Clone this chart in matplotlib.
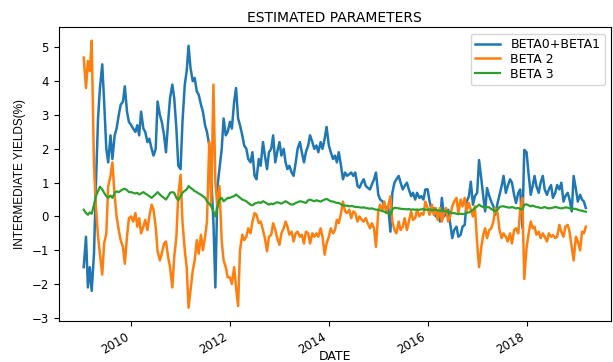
import matplotlib
matplotlib.use("Agg")
import matplotlib.pyplot as plt
import matplotlib.dates as mdates
import pandas as pd

# semi-monthly observations (1st and 15th), mid-Jan 2009 .. mid-Mar 2019
dates = pd.date_range("2009-01-15", "2019-03-15", freq="SMS")

beta01 = [
    # 2009 (from Jan 15)
    -1.5, -0.6, -2.1, -1.5, -2.2, -1.1, 0.9, 2.9, 3.8, 4.5, 3.4, 2.0,
    1.6, 2.4, 1.7, 2.4, 2.6, 3.0, 3.3, 3.4, 3.85, 3.1, 2.8,
    # 2010
    2.7, 2.6, 2.5, 2.7, 2.4, 3.1, 2.6, 2.5, 2.2, 2.3, 2.0, 1.8,
    2.0, 3.4, 3.0, 2.8, 2.4, 1.9, 2.8, 3.5, 3.9, 3.5, 2.6, 1.5,
    # 2011
    1.4, 2.8, 3.9, 4.3, 5.05, 4.4, 4.0, 4.1, 3.7, 3.6, 3.3, 3.1,
    2.7, 2.5, 2.1, 1.2, -0.2, -2.1, 0.9, 1.4, 2.0, 2.9, 2.4, 2.5,
    # 2012
    2.8, 2.6, 3.4, 3.8, 2.9, 2.7, 2.4, 2.1, 2.0, 1.7, 1.6, 1.9,
    1.2, 1.1, 1.7, 1.5, 2.2, 1.8, 1.4, 1.9, 2.0, 2.4, 1.6, 1.9,
    # 2013
    2.2, 1.8, 2.0, 1.6, 1.4, 1.5, 1.3, 1.2, 1.6, 2.0, 2.2, 1.9,
    1.6, 1.9, 2.1, 2.4, 2.2, 2.0, 2.1, 1.9, 2.2, 2.0, 2.3, 2.65,
    # 2014
    2.1, 1.9, 1.7, 1.8, 1.6, 1.9, 1.5, 1.1, 1.3, 1.2, 1.25, 1.3,
    1.2, 1.3, 0.9, 0.85, 1.0, 1.1, 0.9, 0.85, 0.8, 0.95, 1.1, 1.3,
    # 2015
    0.65, 0.5, 0.45, 0.3, 0.25, 0.3, -0.45, 0.7, 1.0, 1.1, 1.2, 1.0,
    0.8, 0.9, 1.0, 0.8, 0.6, 0.7, 0.5, 0.7, 0.55, 0.6, 0.5, 0.8,
    # 2016
    0.8, 0.45, 0.15, 0.25, 0.0, 0.15, -0.15, 0.55, 0.0, 0.1, 0.2, -0.2,
    -0.64, -0.4, -0.3, -0.6, -0.54, -0.3, -0.25, 0.44, 0.6, 1.03, 0.35, 0.6,
    # 2017
    0.7, 1.67, 1.1, 0.6, 0.15, 0.84, 0.6, 0.44, 0.3, 0.05, 0.4, 0.64,
    0.9, 1.2, 0.7, 0.9, 1.1, 1.0, 0.64, 0.4, 0.7, 0.8, -0.34, 1.97,
    # 2018
    1.9, 1.3, 0.64, 0.9, 1.2, 0.9, 0.7, 1.0, 1.2, 0.8, 0.64, 0.8,
    0.93, 0.55, 0.7, 0.93, 0.8, 1.0, 0.44, 0.6, 0.7, 0.5, 0.15, 1.2,
    # 2019
    0.8, 0.44, 0.64, 0.5, 0.44, 0.25,
]

beta2 = [
    # 2009 (from Jan 15)
    4.7, 3.8, 4.6, 4.3, 5.2, 1.5, 0.3, -0.6, -1.1, -1.72, -0.8, -0.5,
    0.9, 1.2, 1.6, 0.6, 0.0, -0.4, -0.7, -0.9, -1.4, -0.6, -0.05,
    # 2010
    0.0, -0.15, 0.1, -0.3, -0.05, -0.5, -0.3, -0.1, -0.4, 0.0, 0.35, 0.2,
    -0.3, -1.03, -1.3, -1.1, -0.8, -0.74, -1.2, -1.5, -2.1, -1.2, -0.6, 0.64,
    # 2011
    1.23, -0.15, -1.0, -1.5, -2.7, -2.2, -1.6, -1.3, -0.7, -1.1, -0.54, -1.0,
    -0.6, -0.15, 2.2, 0.4, 3.9, 1.0, 0.25, 0.9, -0.74, -1.3, -1.5, -1.8,
    # 2012
    -1.8, -2.0, -1.5, -2.1, -2.65, -1.0, -0.54, -0.7, -0.6, -0.35, -0.5, -0.15,
    0.1, 0.05, -0.2, -0.15, -0.4, -0.64, -1.03, -0.6, -0.54, -0.2, -0.4, -0.64,
    # 2013
    -0.84, -0.5, -0.35, -0.15, -0.3, -0.54, -0.45, -0.74, -0.5, -0.45, -0.6, -0.54,
    -0.8, -0.45, -0.5, -0.8, -0.5, -0.6, -0.5, -0.6, -0.35, -0.6, -1.13, -0.8,
    # 2014
    -0.6, -0.35, -0.5, -0.4, -0.1, -0.2, 0.1, 0.44, 0.15, 0.1, 0.2, -0.05,
    0.15, 0.1, -0.15, 0.0, -0.1, -0.15, -0.05, -0.2, -0.35, -0.2, -0.35, -0.9,
    # 2015
    0.15, 0.35, 0.2, 0.44, 0.1, 0.3, 0.6, -0.15, -0.4, -0.5, -0.15, -0.4,
    -0.3, -0.05, -0.4, -0.15, 0.15, -0.1, -0.05, 0.2, 0.0, 0.1, 0.05, 0.44,
    # 2016
    0.25, 0.05, 0.35, 0.05, 0.25, -0.1, 0.25, -0.15, 0.1, 0.25, -0.15, 0.0,
    0.3, 0.44, 0.55, 0.1, 0.5, 0.3, 0.55, 0.15, 0.4, 0.2, 0.0, 0.3,
    # 2017
    -0.8, -1.5, -0.9, -0.54, -0.35, -0.64, -0.4, -0.35, -0.15, 0.25, 0.1, -0.4,
    -0.64, -0.5, -0.6, -0.74, -0.5, -0.8, -0.4, -0.35, -0.5, 0.2, 0.55, -1.85,
    # 2018
    -0.93, -0.54, -0.15, -0.35, -0.3, -0.54, -0.45, -0.64, -0.5, -0.6, -0.74, -0.5,
    -0.6, -0.55, -0.64, -0.6, -0.25, -0.45, -0.6, -0.3, -0.25, -0.45, -0.9, -1.3,
    # 2019
    -0.6, -0.74, -1.0, -0.45, -0.5, -0.3,
]

beta3 = [
    # 2009 (from Jan 15)
    0.2, 0.1, 0.05, 0.12, 0.08, 0.35, 0.6, 0.75, 0.88, 0.8, 0.7, 0.6,
    0.55, 0.62, 0.55, 0.7, 0.74, 0.72, 0.76, 0.8, 0.82, 0.78, 0.72,
    # 2010
    0.72, 0.7, 0.68, 0.7, 0.65, 0.68, 0.72, 0.68, 0.64, 0.6, 0.55, 0.6,
    0.66, 0.72, 0.65, 0.6, 0.55, 0.5, 0.6, 0.7, 0.72, 0.7, 0.55, 0.48,
    # 2011
    0.6, 0.7, 0.76, 0.8, 0.9, 0.85, 0.8, 0.75, 0.72, 0.68, 0.64, 0.6,
    0.55, 0.45, 0.38, 0.3, 0.15, 0.0, 0.3, 0.5, 0.55, 0.45, 0.5, 0.55,
    # 2012
    0.55, 0.58, 0.6, 0.65, 0.6, 0.55, 0.5, 0.48, 0.45, 0.4, 0.35, 0.33,
    0.38, 0.4, 0.42, 0.4, 0.45, 0.42, 0.38, 0.35, 0.38, 0.36, 0.4, 0.42,
    # 2013
    0.4, 0.38, 0.42, 0.45, 0.42, 0.38, 0.35, 0.36, 0.4, 0.42, 0.45, 0.44,
    0.42, 0.4, 0.48, 0.5, 0.47, 0.45, 0.48, 0.46, 0.44, 0.47, 0.5, 0.52,
    # 2014
    0.48, 0.45, 0.44, 0.42, 0.4, 0.4, 0.36, 0.33, 0.32, 0.32, 0.3, 0.31,
    0.3, 0.28, 0.28, 0.27, 0.26, 0.27, 0.25, 0.24, 0.23, 0.24, 0.22, 0.2,
    # 2015
    0.2, 0.18, 0.16, 0.14, 0.12, 0.1, 0.05, 0.2, 0.26, 0.25, 0.24, 0.23,
    0.22, 0.22, 0.21, 0.22, 0.2, 0.21, 0.2, 0.2, 0.2, 0.21, 0.22, 0.2,
    # 2016
    0.2, 0.21, 0.2, 0.19, 0.2, 0.18, 0.17, 0.18, 0.16, 0.15, 0.14, 0.12,
    0.1, 0.1, 0.08, 0.07, 0.08, 0.07, 0.08, 0.1, 0.12, 0.15, 0.2, 0.25,
    # 2017
    0.3, 0.35, 0.3, 0.28, 0.25, 0.28, 0.27, 0.22, 0.18, 0.15, 0.2, 0.28,
    0.3, 0.3, 0.28, 0.27, 0.26, 0.28, 0.26, 0.24, 0.25, 0.22, 0.2, 0.35,
    # 2018
    0.36, 0.33, 0.3, 0.32, 0.3, 0.28, 0.27, 0.25, 0.26, 0.28, 0.25, 0.24,
    0.25, 0.26, 0.28, 0.27, 0.25, 0.24, 0.25, 0.27, 0.26, 0.24, 0.22, 0.23,
    # 2019
    0.22, 0.2, 0.18, 0.17, 0.15, 0.14,
]

df = pd.DataFrame({"BETA0+BETA1": beta01, "BETA 2": beta2, "BETA 3": beta3},
                  index=dates)

fig = plt.figure(figsize=(6.13, 3.62), dpi=100)
ax = fig.add_axes([0.0956, 0.113, 0.901, 0.8115])

widths = {"BETA0+BETA1": 1.8, "BETA 2": 1.8, "BETA 3": 1.6}
for col in df.columns:
    ax.plot(df.index, df[col], label=col, linewidth=widths[col])

ax.xaxis.set_major_locator(mdates.YearLocator(2))
ax.xaxis.set_major_formatter(mdates.DateFormatter("%Y"))
for lbl in ax.get_xticklabels():
    lbl.set_rotation(30)
    lbl.set_ha("right")
ax.tick_params(labelsize=8.5)

ax.set_title("ESTIMATED PARAMETERS", fontsize=10, pad=4)
ax.set_xlabel("DATE", fontsize=9)
ax.xaxis.set_label_coords(0.5, -0.098)
ax.set_ylabel("INTERMEDIATE YIELDS(%)", fontsize=8.5,
              family=["Liberation Sans", "DejaVu Sans"])
ax.legend(loc="upper right", fontsize=9, labelspacing=0.15, borderpad=0.35)

fig.savefig("out.png", dpi=100)
